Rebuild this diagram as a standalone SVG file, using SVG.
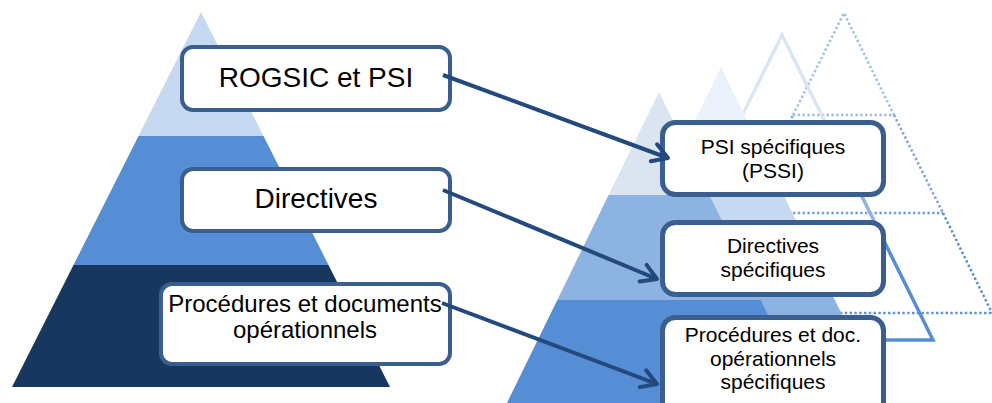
<svg xmlns="http://www.w3.org/2000/svg" width="992" height="403" viewBox="0 0 992 403">
<style>
.box{fill:#ffffff;stroke:#3a5f8e;stroke-width:4}
.rbox{fill:#ffffff;stroke:#3a5f8e;stroke-width:5}
.big{font-family:"Liberation Sans",Arial,sans-serif;font-size:28px;fill:#000;text-anchor:middle}
.mid{font-family:"Liberation Sans",Arial,sans-serif;font-size:24px;fill:#000;text-anchor:middle}
.sm{font-family:"Liberation Sans",Arial,sans-serif;font-size:21px;fill:#000;text-anchor:middle}
.conn{stroke:#24497d;stroke-width:4;fill:none;marker-end:url(#arr)}
.dot{fill:none;stroke-width:2.6;stroke-dasharray:2.4 2.4}
.out{fill:none;stroke-width:3.5;stroke-linecap:square}
</style>
<defs>
<marker id="arr" viewBox="-20 -12 24 24" refX="0" refY="0" markerWidth="24" markerHeight="24" markerUnits="userSpaceOnUse" orient="auto">
<path d="M-15,-9 L0,0 L-15,9" fill="none" stroke="#24497d" stroke-width="4" stroke-linecap="round" stroke-linejoin="round"/>
</marker>
</defs>
<g id="left-pyramid">
<polygon points="201,12 263.5,136 138.5,136" fill="#c6d9f1"/>
<polygon points="138.5,136 263.5,136 328.5,265 73.5,265" fill="#558ed5"/>
<polygon points="73.5,265 328.5,265 390,387 12,387" fill="#17375e"/>
</g>
<g id="dotted-pyramid">
<polyline class="dot" points="793,115 844,13 894,115" stroke="#a3c0e8"/>
<line class="dot" x1="793" y1="115" x2="894" y2="115" stroke="#9dbce7"/>
<polyline class="dot" points="745,213 793,115" stroke="#7fa8de"/>
<line class="dot" x1="894" y1="115" x2="943" y2="213" stroke="#7fa8de"/>
<line class="dot" x1="745" y1="213" x2="943" y2="213" stroke="#6f9edb"/>
<line class="dot" x1="943" y1="213" x2="992" y2="313" stroke="#5b8fd6"/>
<line class="dot" x1="696" y1="313" x2="992" y2="313" stroke="#5b8fd6"/>
</g>
<g id="outline-pyramid">
<polyline class="out" points="732,136 782,35 832,136" stroke="#dce6f2"/>
<line class="out" x1="832" y1="136" x2="884" y2="241" stroke="#8db3e2"/>
<line class="out" x1="732" y1="136" x2="680" y2="241" stroke="#8db3e2"/>
<polyline class="out" points="884,241 933,340 631,340 680,241" stroke="#558ed5" style="stroke-linejoin:miter"/>
</g>
<g id="second-pyramid">
<polygon points="721,67 771.4,170 670.6,170" fill="#eaf1fa"/>
<polygon points="670.6,170 771.4,170 822.7,275 619.3,275" fill="#c6d9f1"/>
<polygon points="619.3,275 822.7,275 873,378 569,378" fill="#8db3e2"/>
</g>
<g id="front-pyramid">
<polygon points="659,92 709.4,195 608.6,195" fill="#dbe5f1"/>
<polygon points="608.6,195 709.4,195 760.7,300 557.3,300" fill="#8db3e2"/>
<polygon points="557.3,300 760.7,300 814.5,410 503.5,410" fill="#558ed5"/>
</g>
<g id="node-rogsic">
<rect class="box" x="182" y="47" width="268" height="63" rx="11"/>
<text class="big" x="316" y="87">ROGSIC et PSI</text>
</g>
<g id="node-directives">
<rect class="box" x="182" y="169" width="268" height="62" rx="11"/>
<text class="big" x="316" y="208">Directives</text>
</g>
<g id="node-procedures">
<rect class="box" x="161" y="284" width="289" height="80" rx="11"/>
<text class="mid" x="305" y="312">Procédures et documents</text>
<text class="mid" x="305" y="338">opérationnels</text>
</g>
<g id="node-pssi">
<rect class="rbox" x="662.5" y="122.5" width="221" height="72" rx="13"/>
<text class="sm" x="773" y="154">PSI spécifiques</text>
<text class="sm" x="773" y="178">(PSSI)</text>
</g>
<g id="node-dir-spec">
<rect class="rbox" x="662.5" y="222.5" width="221" height="72" rx="13"/>
<text class="sm" x="773" y="253">Directives</text>
<text class="sm" x="773" y="277">spécifiques</text>
</g>
<g id="node-proc-spec">
<rect class="rbox" x="662.5" y="317.5" width="221" height="100" rx="13"/>
<text class="sm" x="773" y="342">Procédures et doc.</text>
<text class="sm" x="773" y="366">opérationnels</text>
<text class="sm" x="773" y="389">spécifiques</text>
</g>
<g id="connectors">
<line class="conn" x1="443" y1="75" x2="668" y2="158"/>
<line class="conn" x1="443" y1="190" x2="657" y2="279"/>
<line class="conn" x1="442" y1="303" x2="657" y2="384"/>
</g>
</svg>
